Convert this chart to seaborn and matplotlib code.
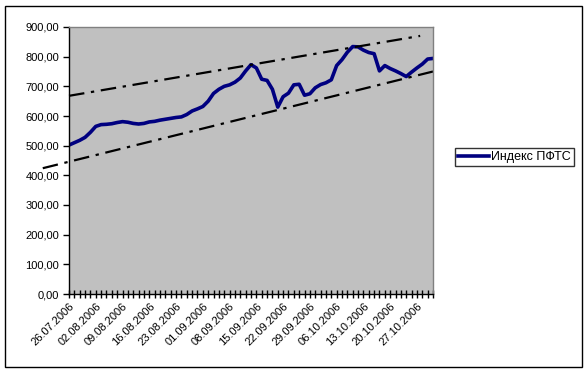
import numpy as np
import pandas as pd
import matplotlib
matplotlib.use('Agg')
import matplotlib.pyplot as plt
from matplotlib.ticker import FuncFormatter
from matplotlib.patches import Rectangle
import seaborn as sns

# index values, one per trading day
pfts = [502, 510, 518, 528, 545, 565, 571, 572, 574, 578,
        581, 579, 575, 573, 575, 580, 582, 586, 589, 592,
        595, 597, 605, 617, 624, 632, 650, 676, 690, 700,
        705, 714, 728, 752, 773, 762, 724, 720, 690, 630,
        665, 677, 705, 707, 670, 675, 695, 706, 712, 722,
        770, 790, 815, 834, 833, 822, 814, 810, 752, 770,
        760, 752, 743, 733, 748, 762, 775, 792, 794]

date_labels = ['26.07.2006', '02.08.2006', '09.08.2006', '16.08.2006',
               '23.08.2006', '01.09.2006', '08.09.2006', '15.09.2006',
               '22.09.2006', '29.09.2006', '06.10.2006', '13.10.2006',
               '20.10.2006', '27.10.2006']
label_step = 5

# channel lines (category index, value)
upper_x = [0, 65.6]
upper_y = [668, 870]
lower_x = [-4.9, 68]
lower_y = [424, 750]

df = pd.DataFrame({'day': np.arange(len(pfts)), 'value': pfts})

plt.rcParams['font.family'] = ['Liberation Sans', 'DejaVu Sans']
fig = plt.figure(figsize=(5.88, 3.72), dpi=100)
ax = fig.add_axes([69 / 588, 1 - 294 / 372, (433 - 69) / 588, (294 - 27) / 372])
ax.set_facecolor('#c0c0c0')

sns.lineplot(data=df, x='day', y='value', ax=ax, color='#000080', lw=2.6,
             label='Индекс ПФТС')
ax.plot(upper_x, upper_y, color='black', lw=1.6, dashes=(7, 3, 1.5, 3),
        clip_on=False)
ax.plot(lower_x, lower_y, color='black', lw=1.6, dashes=(7, 3, 1.5, 3),
        clip_on=False)

ax.set_xlim(0, len(pfts) - 1)
ax.set_ylim(0, 900)
ax.set_yticks(np.arange(0, 901, 100))
ax.yaxis.set_major_formatter(FuncFormatter(lambda v, p: f'{v:.2f}'.replace('.', ',')))

ax.set_xticks(np.arange(len(pfts)))
xlabels = [''] * len(pfts)
for k, lab in enumerate(date_labels):
    xlabels[k * label_step] = lab
ax.set_xticklabels(xlabels, rotation=45, ha='right', va='top',
                   rotation_mode='anchor')
ax.tick_params(axis='x', direction='inout', length=6, width=1, labelsize=8, pad=2)
ax.tick_params(axis='y', direction='out', length=4, width=1, labelsize=8, pad=3)
ax.set_xlabel('')
ax.set_ylabel('')

for s in ['left', 'bottom']:
    ax.spines[s].set_color('black')
    ax.spines[s].set_linewidth(1)
for s in ['top', 'right']:
    ax.spines[s].set_color('#808080')
    ax.spines[s].set_linewidth(1)

leg = ax.legend(loc='center left', bbox_to_anchor=(455 / 588, 1 - 157 / 372),
                bbox_transform=fig.transFigure, frameon=True, fancybox=False,
                fontsize=9, handlelength=2.5, handletextpad=0.1,
                borderpad=0.25, borderaxespad=0)
leg.get_frame().set_edgecolor('black')
leg.get_frame().set_linewidth(1)

fig.patches.append(Rectangle((5 / 588, 1 - 367 / 372), 577 / 588, 361 / 372,
                             transform=fig.transFigure, fill=False,
                             edgecolor='black', lw=1))

fig.savefig('out.png', dpi=100)
